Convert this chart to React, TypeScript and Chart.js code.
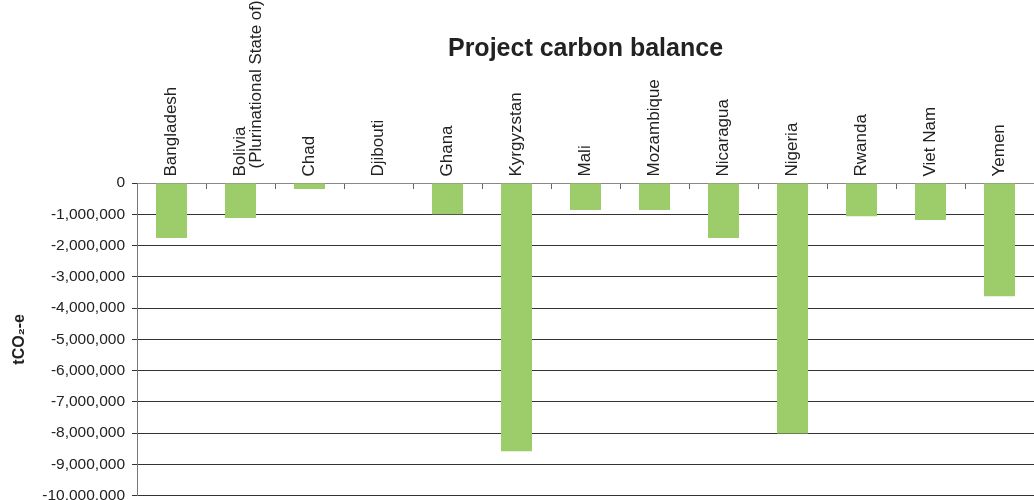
import React, { useEffect, useRef } from "react";
import { Chart, registerables } from "chart.js";

Chart.register(...registerables);

const categories: string[] = [
  "Bangladesh",
  "Bolivia",
  "Chad",
  "Djibouti",
  "Ghana",
  "Kyrgyzstan",
  "Mali",
  "Mozambique",
  "Nicaragua",
  "Nigeria",
  "Rwanda",
  "Viet Nam",
  "Yemen",
];

// second line of the wrapped category labels
const categorySecondLines: string[] = [
  "",
  "(Plurinational State of)",
  "",
  "",
  "",
  "",
  "",
  "",
  "",
  "",
  "",
  "",
  "",
];

const carbonBalance: number[] = [
  -1760000, -1120000, -190000, 0, -1000000, -8580000, -860000, -860000,
  -1760000, -8010000, -1060000, -1180000, -3620000,
];

const yMin = -10000000;
const yMax = 0;
const yStep = 1000000;

const titleText = "Project carbon balance";
const yTitle = "tCO\u2082-e";

const FONT = "'Liberation Sans', Arial, Helvetica, sans-serif";

const noLabelClip = (scale: any) => {
  scale._computeLabelArea = () => undefined;
};

export default function App() {
  const ref = useRef<HTMLCanvasElement | null>(null);

  useEffect(() => {
    if (!ref.current) return;
    const xTickFont = { family: FONT, size: 17, lineHeight: 1.15 };
    const chart = new Chart(ref.current, {
      type: "bar",
      data: {
        labels: categories,
        datasets: [
          {
            data: carbonBalance,
            backgroundColor: "#9dcc6a",
            borderWidth: 0,
            categoryPercentage: 1,
            barPercentage: 0.45,
            xAxisID: "x",
            yAxisID: "y",
          },
        ],
      },
      options: {
        responsive: false,
        animation: false,
        devicePixelRatio: 1,
        layout: { padding: { left: 0, right: 0, top: 0, bottom: 0 } },
        plugins: {
          legend: { display: false },
          tooltip: { enabled: false },
          title: {
            display: true,
            text: titleText,
            fullSize: false,
            color: "#222",
            font: { family: FONT, size: 25, weight: "bold", lineHeight: 1.2 },
            padding: { top: 34, bottom: 0 },
          },
        },
        scales: {
          x: {
            position: "top",
            weight: 1,
            offset: true,
            grid: {
              display: true,
              drawOnChartArea: false,
              drawTicks: true,
              tickLength: -6,
              color: "#666",
              offset: true,
            },
            border: { display: true, color: "#888", width: 1 },
            ticks: {
              autoSkip: false,
              minRotation: 90,
              maxRotation: 90,
              padding: 12.5,
              labelOffset: 19.5,
              color: "#222",
              font: xTickFont,
            },
            afterFit: (scale: any) => {
              scale.height = 119;
              noLabelClip(scale);
            },
          },
          x2: {
            type: "category",
            position: "top",
            weight: -1,
            offset: true,
            labels: categorySecondLines,
            grid: { display: false, drawOnChartArea: false },
            border: { display: false },
            ticks: {
              autoSkip: false,
              minRotation: 90,
              maxRotation: 90,
              padding: 6.5,
              labelOffset: 35,
              color: "#222",
              font: xTickFont,
            },
            afterFit: (scale: any) => {
              scale.height = 0;
              noLabelClip(scale);
            },
          },
          y: {
            min: yMin,
            max: yMax,
            grid: {
              color: "#333",
              lineWidth: 1,
              tickLength: 5,
              drawTicks: true,
            },
            border: { display: true, color: "#777", width: 1 },
            ticks: {
              stepSize: yStep,
              padding: 7,
              color: "#222",
              font: { family: FONT, size: 15.5 },
              callback: (v: any) => Number(v).toLocaleString("en-US"),
            },
            title: {
              display: true,
              text: yTitle,
              color: "#222",
              font: { family: FONT, size: 16, weight: "bold" },
              padding: { top: 10, bottom: 0 },
            },
            afterFit: (scale: any) => {
              scale.width = 137;
            },
          },
        },
      },
    });
    return () => chart.destroy();
  }, []);

  return (
    <div
      style={{
        position: "absolute",
        left: 0,
        top: 0,
        width: 1034,
        height: 500,
        overflow: "hidden",
        background: "#fff",
      }}
    >
      <canvas ref={ref} width={1034} height={512} style={{ display: "block" }} />
    </div>
  );
}
